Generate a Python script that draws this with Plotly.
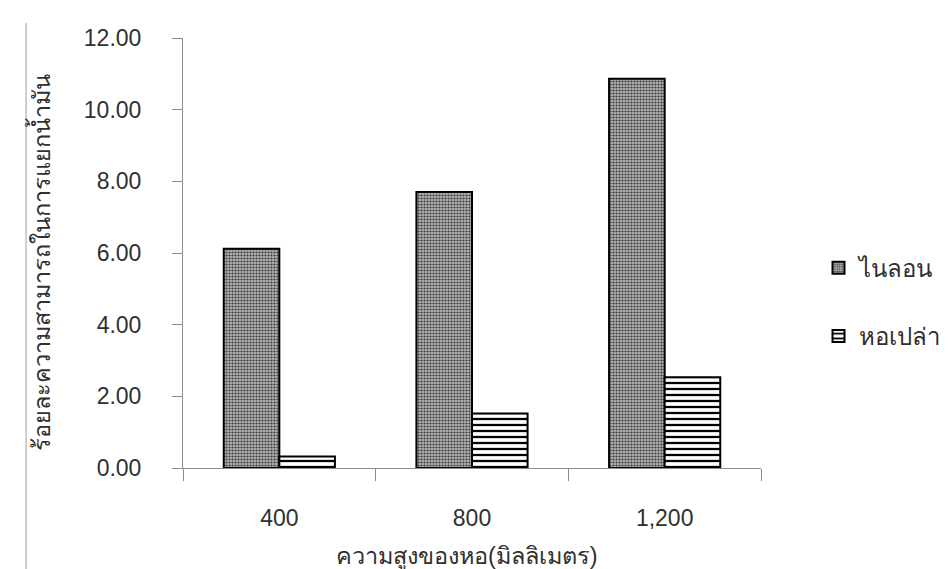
import plotly.graph_objects as go

categories = ["400", "800", "1,200"]
nylon = [6.12, 7.70, 10.86]
empty_tower = [0.32, 1.52, 2.53]
series_names = ["ไนลอน", "หอเปล่า"]
y_ticks = [0, 2, 4, 6, 8, 10, 12]
y_tick_text = ["0.00", "2.00", "4.00", "6.00", "8.00", "10.00", "12.00"]
x_title = "ความสูงของหอ(มิลลิเมตร)"
y_title = "ร้อยละความสามารถในการแยกน้ำมัน"

FONT = "Liberation Sans, DejaVu Sans, sans-serif"
TXT = "#303030"
AX = "#8c8c8c"

fig = go.Figure()
fig.add_trace(go.Bar(
    x=categories, y=nylon, name=series_names[0], legendgroup="a",
    marker=dict(color="#8a8a8a",
                line=dict(color="black", width=2),
                pattern=dict(shape=".", fgcolor="#3c3c3c", bgcolor="#b4b4b4",
                             size=3, solidity=0.42, fillmode="replace")),
))
fig.add_trace(go.Bar(
    x=categories, y=empty_tower, name=series_names[1], legendgroup="b",
    marker=dict(color="white",
                line=dict(color="black", width=2),
                pattern=dict(shape="-", fgcolor="black", bgcolor="white",
                             size=6, solidity=0.38, fillmode="replace")),
))

W, H = 949, 569
L, R, T, B = 175, 181, 30, 108.5
pw = W - L - R
ph = H - T - B

def px_x(x):
    return (x - L) / pw

def px_y(y):
    return (H - B - y) / ph

fig.update_layout(
    width=W, height=H,
    margin=dict(l=L, r=R, t=T, b=B, pad=0),
    paper_bgcolor="white", plot_bgcolor="white",
    barmode="group", bargap=0.423, bargroupgap=0,
    font=dict(family=FONT, size=23, color=TXT),
    showlegend=True,
    legend=dict(x=px_x(827), y=px_y(238), xanchor="left", yanchor="top",
                font=dict(size=24, color=TXT), tracegroupgap=34,
                bgcolor="rgba(0,0,0,0)"),
    xaxis=dict(
        type="category", showline=True, linecolor=AX, linewidth=1,
        ticks="outside", tickson="boundaries", ticklen=12, tickcolor=AX,
        tickwidth=1, showgrid=False, zeroline=False,
        tickfont=dict(size=23, color=TXT), ticklabelstandoff=29,
    ),
    yaxis=dict(
        range=[0, 12], tickvals=y_ticks, ticktext=y_tick_text,
        showline=True, linecolor=AX, linewidth=1,
        ticks="outside", ticklen=10, tickcolor=AX, tickwidth=1,
        showgrid=False, zeroline=False,
        tickfont=dict(size=23, color=TXT), ticklabelstandoff=26,
    ),
    annotations=[
        dict(text=x_title, xref="paper", yref="paper",
             x=px_x(466), y=px_y(550), xanchor="center", yanchor="middle",
             showarrow=False, font=dict(size=23.5, color=TXT)),
        dict(text=y_title, xref="paper", yref="paper",
             x=px_x(28), y=px_y(255), xanchor="center", yanchor="middle",
             textangle=-90, showarrow=False, font=dict(size=23.5, color=TXT)),
    ],
    shapes=[
        dict(type="line", xref="paper", yref="paper",
             x0=px_x(14), x1=px_x(14), y0=px_y(15), y1=px_y(569),
             line=dict(color="#a0a0a0", width=1)),
    ],
)

fig.write_html("out.html")
